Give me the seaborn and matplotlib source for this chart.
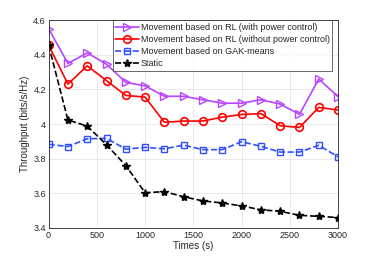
import numpy as np
import pandas as pd
import seaborn as sns
import matplotlib.pyplot as plt

times = [0, 200, 400, 600, 800, 1000, 1200, 1400, 1600, 1800, 2000, 2200, 2400, 2600, 2800, 3000]
rl_power = [4.55, 4.35, 4.41, 4.345, 4.24, 4.22, 4.16, 4.16, 4.14, 4.12, 4.12, 4.14, 4.115, 4.056, 4.26, 4.157]
rl_nopower = [4.455, 4.23, 4.336, 4.25, 4.165, 4.155, 4.01, 4.017, 4.017, 4.04, 4.055, 4.06, 3.99, 3.98, 4.096, 4.08]
gak_means = [3.883, 3.87, 3.915, 3.917, 3.855, 3.865, 3.857, 3.878, 3.852, 3.852, 3.898, 3.871, 3.838, 3.838, 3.877, 3.81]
static = [4.455, 4.023, 3.988, 3.88, 3.76, 3.603, 3.61, 3.58, 3.556, 3.544, 3.527, 3.505, 3.496, 3.473, 3.467, 3.46]

labels = ["Movement based on RL (with power control)",
          "Movement based on RL (without power control)",
          "Movement based on GAK-means",
          "Static"]

sns.set_style("whitegrid")
plt.rcParams['font.family'] = ['Liberation Sans', 'DejaVu Sans']

fig = plt.figure(figsize=(3.74, 2.57), dpi=100)
ax = fig.add_axes([0.13, 0.113, 0.774, 0.809])

styles = [
    dict(color='#B845FF', marker='>', linestyle='-', ms=6, mfc='none', mew=1.0),
    dict(color='#FF0000', marker='o', linestyle='-', ms=5.5, mfc='none', mew=1.2),
    dict(color='#2F4FFF', marker='s', linestyle='--', ms=4, mfc='none', mew=1.0),
    dict(color='black', marker='*', linestyle='--', ms=6, mfc='black', mew=1.0),
]
for vals, lab, st in zip([rl_power, rl_nopower, gak_means, static], labels, styles):
    df = pd.DataFrame({'time': times, 'thr': vals})
    sns.lineplot(data=df, x='time', y='thr', ax=ax, label=lab, lw=1.2,
                 markeredgecolor=st['color'], **st)

ax.set_xlim(0, 3000)
ax.set_ylim(3.4, 4.6)
ax.set_xticks([0, 500, 1000, 1500, 2000, 2500, 3000])
ax.set_yticks([3.4, 3.6, 3.8, 4.0, 4.2, 4.4, 4.6])
ax.set_yticklabels(['3.4', '3.6', '3.8', '4', '4.2', '4.4', '4.6'])
ax.tick_params(labelsize=6.5, direction='in', length=2, colors='#262626', pad=2)
ax.set_xlabel("Times (s)", fontsize=7, labelpad=1, color='#262626')
ax.set_ylabel("Throughput (bits/s/Hz)", fontsize=7, labelpad=2, color='#262626')
ax.grid(True, color='#e6e6e6', lw=0.6)
for s in ax.spines.values():
    s.set_color('#262626')
    s.set_linewidth(0.6)

leg = ax.legend(loc='upper right', bbox_to_anchor=(0.98, 1.0), fontsize=6.5,
                frameon=True, fancybox=False, borderpad=0.3, labelspacing=0.35,
                handlelength=2.6, handletextpad=0.2, borderaxespad=0.0)
leg.get_frame().set_edgecolor('#262626')
leg.get_frame().set_linewidth(0.6)

fig.savefig("out.png", dpi=100)
